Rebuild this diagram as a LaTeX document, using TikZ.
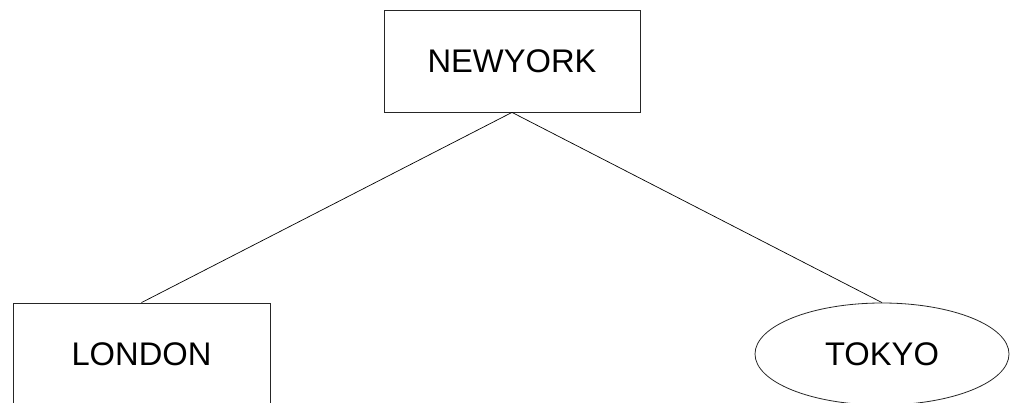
\documentclass[tikz,border=0pt]{standalone}
\usepackage{fontspec}
\setmainfont{Liberation Sans}
\usetikzlibrary{shapes.geometric}
\begin{document}
\begin{tikzpicture}[x=1pt,y=-1pt,
  lbl/.style={font=\fontsize{32.7}{39}\selectfont, inner sep=0pt, line width=0.8pt, draw=black!85},
  boxnode/.style={lbl, rectangle, minimum width=256pt, minimum height=102pt},
  ovalnode/.style={lbl, ellipse, minimum width=254pt, minimum height=102pt},
  link/.style={line width=0.7pt, black}]
\useasboundingbox (0,0) rectangle (1010,402);
\clip (0,0) rectangle (1010,402);
\node[boxnode] (ny) at (512,61) {NEWYORK};
\node[boxnode, minimum width=257pt] (lon) at (141.5,354) {LONDON};
\node[ovalnode] (tok) at (882,354) {TOKYO};
\draw[link] (ny.south) -- (lon.north);
\draw[link] (ny.south) -- (tok.north);
\end{tikzpicture}
\end{document}
